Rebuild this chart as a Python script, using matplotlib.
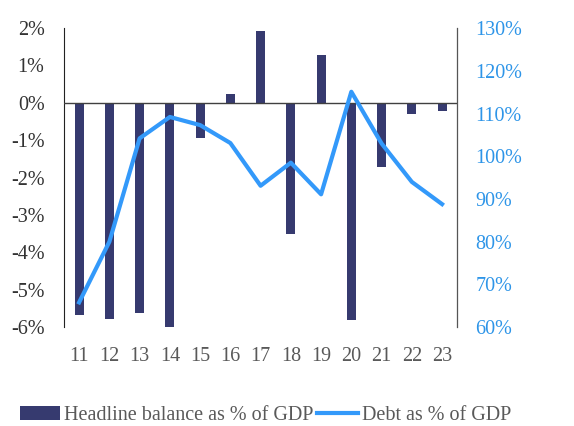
import numpy as np
import matplotlib
matplotlib.use("Agg")
import matplotlib.pyplot as plt

plt.rcParams["font.family"] = ["Liberation Serif", "DejaVu Serif"]

years = ["11", "12", "13", "14", "15", "16", "17", "18", "19", "20", "21", "22", "23"]
balance = [-5.67, -5.77, -5.61, -6.06, -0.93, 0.25, 1.93, -3.5, 1.29, -5.81, -1.72, -0.31, -0.23]
debt = [65.8, 80.0, 104.2, 109.2, 107.3, 103.1, 93.1, 98.5, 91.1, 115.1, 103.0, 94.0, 88.8]

bar_color = "#363a6f"
line_color = "#3399fa"

fig = plt.figure(figsize=(5.74, 4.26), dpi=100)
ax = fig.add_axes([0.1115, 0.232, 0.685, 0.702])
x = np.arange(len(years))

ax.bar(x, balance, width=0.3, color=bar_color, label="Headline balance as % of GDP", zorder=2)
ax.axhline(0, color="#404040", linewidth=1, zorder=3)
ax.set_ylim(-6, 2)
ax.set_xlim(-0.5, len(years) - 0.5)
ax.set_yticks([-6, -5, -4, -3, -2, -1, 0, 1, 2])
ax.set_yticklabels([f"{v}%" for v in range(-6, 3)], color="#333333", fontsize=14.5)
ax.set_xticks(x)
ax.set_xticklabels(years, color="#595959", fontsize=14.5)
ax.tick_params(axis="y", length=0, pad=14)
ax.tick_params(axis="x", length=0, pad=14)

ax2 = ax.twinx()
ax2.plot(x, debt, color=line_color, linewidth=3, label="Debt as % of GDP", zorder=4)
ax2.set_ylim(60, 130)
ax2.set_yticks(range(60, 131, 10))
ax2.set_yticklabels([f"{v}%" for v in range(60, 131, 10)], color="#2e95e8", fontsize=14.5)
ax2.tick_params(length=0, pad=13)

for a in (ax, ax2):
    a.spines["top"].set_visible(False)
    a.spines["bottom"].set_visible(False)
ax.spines["left"].set_color("#222222")
ax2.spines["right"].set_color("#555555")
ax2.spines["left"].set_visible(False)

h1, l1 = ax.get_legend_handles_labels()
h2, l2 = ax2.get_legend_handles_labels()
leg = fig.legend(h1 + h2, l1 + l2, loc="lower center", bbox_to_anchor=(0.462, -0.04), ncol=2,
                 frameon=False, fontsize=14.5, handlelength=2.0, handletextpad=0.2, columnspacing=0.2)
for t in leg.get_texts():
    t.set_color("#595959")

fig.savefig("out.png", dpi=100)
